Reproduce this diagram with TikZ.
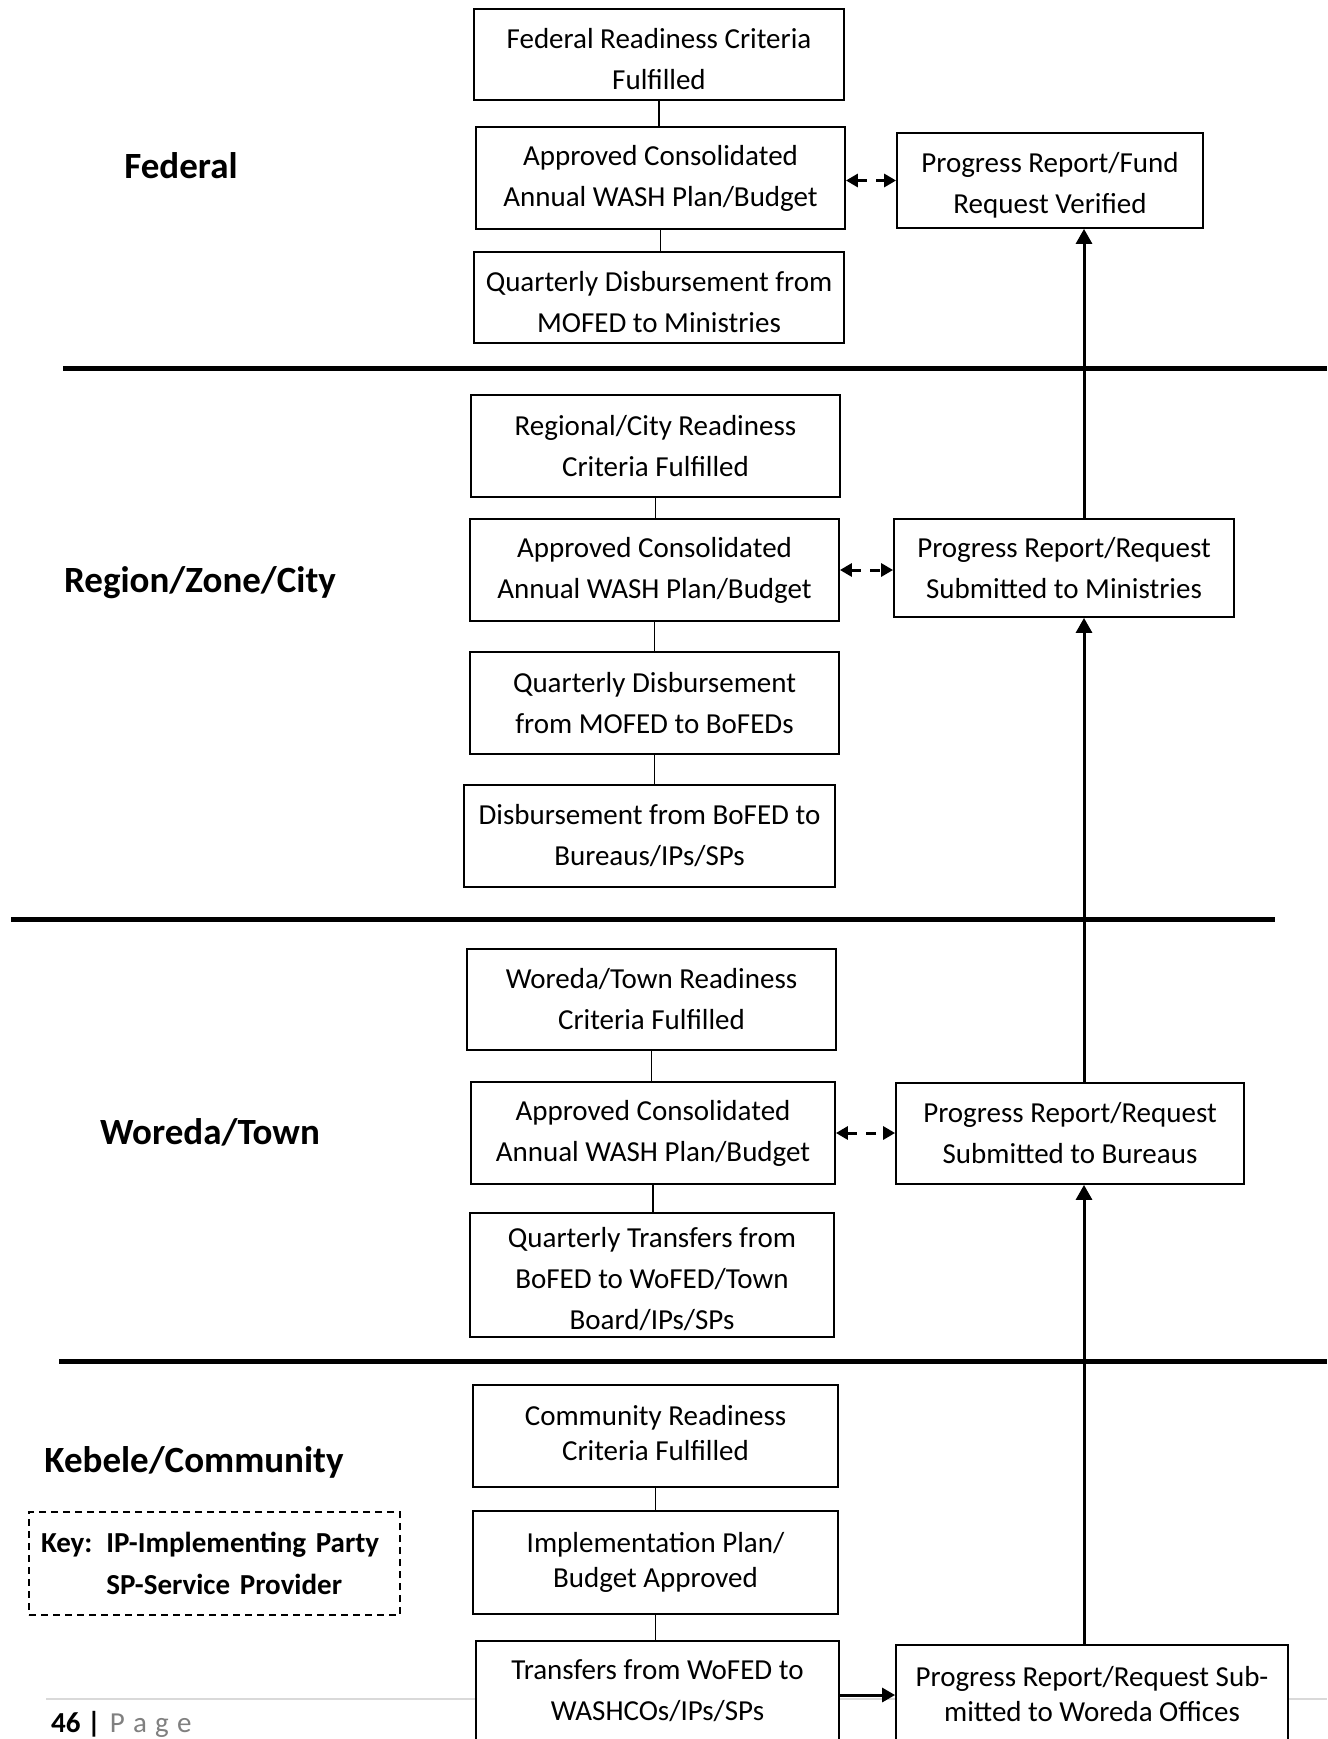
\documentclass[tikz,border=0pt]{standalone}
\usepackage{fontspec}
\setmainfont{Carlito}
\usetikzlibrary{arrows.meta}

\begin{document}
\begin{tikzpicture}[x=1pt,y=-1pt,
  box/.style={draw, line width=1.8pt, fill=white, align=center, inner sep=0pt,
    font=\fontsize{29}{41}\selectfont},
  tightbox/.style={box, font=\fontsize{29}{35.5}\selectfont},
  boxlbl/.style={align=center, inner sep=0pt, font=\fontsize{29}{41}\selectfont},
  tightlbl/.style={boxlbl, font=\fontsize{29}{35.5}\selectfont},
  lvl/.style={font=\fontsize{37}{44}\selectfont\bfseries, inner sep=0pt},
  keybox/.style={draw, dashed, dash pattern=on 7pt off 5pt, line width=1.6pt,
    align=left, inner sep=0pt, font=\fontsize{29}{42}\selectfont\bfseries},
  divider/.style={line width=5pt},
  link/.style={line width=1.6pt},
  uparrow/.style={line width=3pt, -{Triangle[length=15pt,width=16pt]}},
  exchange/.style={line width=3pt, dash pattern=on 10pt off 9pt,
    {Triangle[length=12pt,width=13pt]}-{Triangle[length=12pt,width=13pt]}},
  feed/.style={line width=3pt, -{Triangle[length=13pt,width=14pt]}}
]
\clip (0,0) rectangle (1327,1739);
\fill[white] (0,0) rectangle (1327,1739);

% page footer rule and page number
\draw[line width=1.6pt, black!15] (46,1699) -- (1327,1699);
\node[anchor=base west, inner sep=0pt, font=\fontsize{29}{35}\selectfont] (pageno) at (51,1732)
  {\bfseries 46 |\mdseries\hspace{9pt}\textcolor{black!50}{\spaceskip=8.2pt P a g e}};

% level dividers
\draw[divider] (63,368) -- (1327,368);
\draw[divider] (11,919) -- (1275,919);
\draw[divider] (59,1361) -- (1327,1361);

% level names
\node[lvl] (lfed) at (181,166) {Federal};
\node[lvl] (lreg) at (200,583) {Region/Zone/City};
\node[lvl] (lwor) at (210,1132) {Woreda/Town};
\node[lvl] (lkeb) at (194,1462) {Kebele/Community};

% federal level
\node[box, minimum width=370, minimum height=91,
  label={[boxlbl, yshift=-4.5pt]center:{Federal Readiness Criteria\\Fulfilled}}] (b1) at (659,54.5) {};
\node[box, minimum width=369, minimum height=102] (b2) at (660.5,178)
  {Approved Consolidated\\Annual WASH Plan/Budget};
\node[box, minimum width=370, minimum height=91,
  label={[boxlbl, yshift=-4.5pt]center:{Quarterly Disbursement from\\MOFED to Ministries}}] (b3) at (659,297.5) {};
\node[box, minimum width=306, minimum height=95,
  label={[boxlbl, yshift=-4.5pt]center:{Progress Report/Fund\\Request Verified}}] (r1) at (1050,180.5) {};

% regional level
\node[box, minimum width=369, minimum height=102] (c1) at (655.5,446)
  {Regional/City Readiness\\Criteria Fulfilled};
\node[box, minimum width=369, minimum height=102] (c2) at (654.5,570)
  {Approved Consolidated\\Annual WASH Plan/Budget};
\node[box, minimum width=369, minimum height=102] (c3) at (654.5,703)
  {Quarterly Disbursement\\from MOFED to BoFEDs};
\node[box, minimum width=371, minimum height=102] (c4) at (649.5,836)
  {Disbursement from BoFED to\\Bureaus/IPs/SPs};
\node[box, minimum width=340, minimum height=98] (r2) at (1064,568)
  {Progress Report/Request\\Submitted to Ministries};

% woreda level
\node[box, minimum width=369, minimum height=101] (w1) at (651.5,999.5)
  {Woreda/Town Readiness\\Criteria Fulfilled};
\node[box, minimum width=364, minimum height=102] (w2) at (653,1133)
  {Approved Consolidated\\Annual WASH Plan/Budget};
\node[box, minimum width=364, minimum height=124,
  label={[boxlbl, yshift=-4.5pt]center:{Quarterly Transfers from\\BoFED to WoFED/Town\\Board/IPs/SPs}}] (w3) at (652,1275) {};
\node[box, minimum width=348, minimum height=101] (r3) at (1070,1133.5)
  {Progress Report/Request\\Submitted to Bureaus};

% kebele level
\node[box, minimum width=365, minimum height=102,
  label={[tightlbl, yshift=3pt]center:{Community Readiness\\Criteria Fulfilled}}] (k1) at (655.5,1436) {};
\node[tightbox, minimum width=365, minimum height=103] (k2) at (655.5,1562.5)
  {Implementation Plan/\\Budget Approved};
\node[box, minimum width=363, minimum height=100] (k3) at (657.5,1691)
  {Transfers from WoFED to\\WASHCOs/IPs/SPs};
\node[tightbox, minimum width=392, minimum height=98] (r4) at (1092,1694)
  {Progress Report/Request Sub-\\mitted to Woreda Offices};

% key
\node[keybox, minimum width=371, minimum height=103, text width=347] (key) at (214.5,1563.5)
  {Key:\hspace{14pt}IP-Implementing Party\\\hphantom{Key:}\hspace{14pt}SP-Service Provider};

% links within each column
\foreach \u/\l in {b1/b2, b2/b3, c1/c2, c2/c3, c3/c4, w1/w2, w2/w3, k1/k2, k2/k3}
  \draw[link] (\u.south) -- (\u.south |- \l.north);

% plan / report exchange
\draw[exchange] (b2.east |- r1.west) -- (r1.west);
\draw[exchange] (c2.east) -- (c2.east -| r2.west);
\draw[exchange] (w2.east) -- (w2.east -| r3.west);
\draw[feed] (k3.east |- 0,1695) -- (r4.west |- 0,1695);

% reporting chain upwards
\draw[uparrow] (r4.north -| 1084,0) -- (r3.south -| 1084,0);
\draw[uparrow] (r3.north -| 1084,0) -- (r2.south -| 1084,0);
\draw[uparrow] (r2.north -| 1084,0) -- (r1.south -| 1084,0);
\end{tikzpicture}
\end{document}
